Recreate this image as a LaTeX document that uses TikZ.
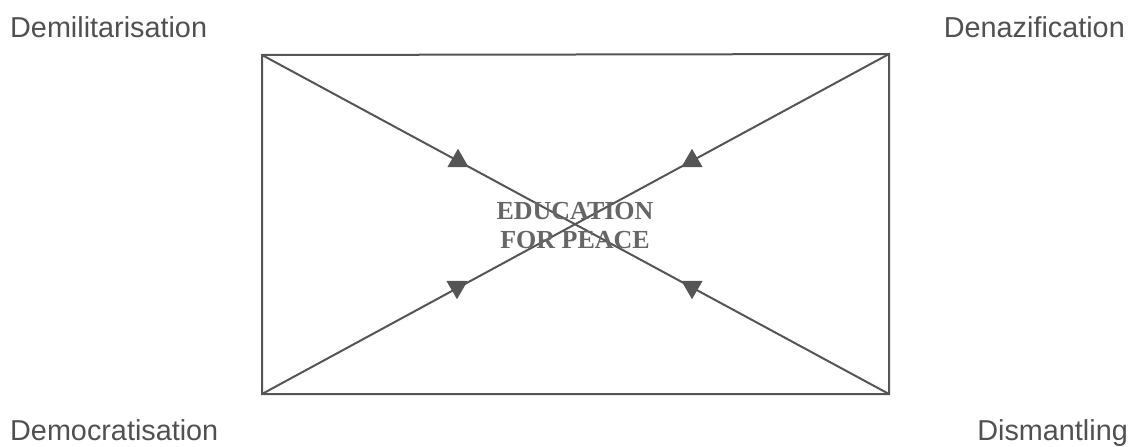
\documentclass[tikz,border=0pt]{standalone}
\usepackage{fontspec}
\setmainfont{Liberation Serif}
\newfontfamily\labfont{Liberation Sans}
\usetikzlibrary{shapes.geometric}
\definecolor{linegray}{HTML}{555555}
\definecolor{labgray}{HTML}{505050}
\definecolor{titlegray}{HTML}{666666}
\begin{document}
\begin{tikzpicture}[x=1pt,y=-1pt,
  frame/.style={draw=linegray,line width=2pt},
  diag/.style={draw=linegray,line width=2pt},
  mark tri/.style={regular polygon,regular polygon sides=3,minimum size=24.5pt,inner sep=0pt,outer sep=0pt,fill=linegray},
  corner label/.style={font=\labfont\fontsize{28.8}{32}\selectfont,text=labgray,inner sep=0pt},
  title/.style={font=\bfseries\fontsize{26}{29}\selectfont,text=titlegray,align=center,inner sep=0pt}]
\useasboundingbox (0,0) rectangle (1133,447);
\coordinate (tl) at (262,55);
\coordinate (tr) at (889,54);
\coordinate (bl) at (262,394);
\coordinate (br) at (889,394);
\draw[frame] (tl) -- (tr) -- (br) -- (bl) -- cycle;
\draw[diag] (tl) -- (br);
\draw[diag] (bl) -- (tr);
\node[mark tri] (t1) at (458,161) {};
\node[mark tri] (t2) at (692,161) {};
\node[mark tri,shape border rotate=180] (t3) at (457,287) {};
\node[mark tri,shape border rotate=180] (t4) at (692,287) {};
\node[title] (edu) at (575,226) {EDUCATION\\FOR PEACE};
\node[corner label,anchor=base west] (dem) at (10,37) {Demilitarisation};
\node[corner label,anchor=base east] (den) at (1125,37) {Denazification};
\node[corner label,anchor=base west] (dmc) at (10,440) {Democratisation};
\node[corner label,anchor=base east] (dis) at (1128,440) {Dismantling};
\end{tikzpicture}
\end{document}
